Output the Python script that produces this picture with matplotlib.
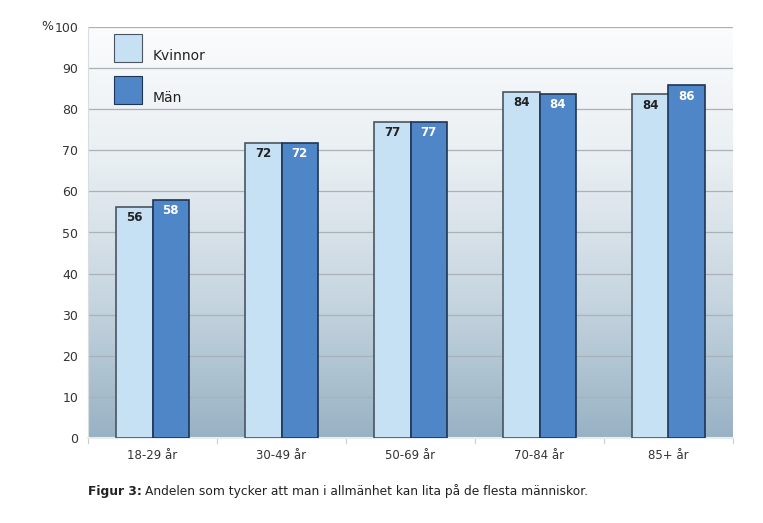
import matplotlib
matplotlib.use("Agg")
import matplotlib.pyplot as plt
import numpy as np
from matplotlib.colors import LinearSegmentedColormap
from matplotlib.patches import Rectangle

categories = ["18-29 år", "30-49 år", "50-69 år", "70-84 år", "85+ år"]
kvinnor = [56.3, 71.8, 77.0, 84.3, 83.6]
man = [58.0, 71.8, 77.0, 83.8, 85.8]
kvinnor_labels = ["56", "72", "77", "84", "84"]
man_labels = ["58", "72", "77", "84", "86"]
yticks = [0, 10, 20, 30, 40, 50, 60, 70, 80, 90, 100]

fig = plt.figure(figsize=(7.63, 5.23), dpi=100)
ax = fig.add_axes([88/763, 1-438/523, (733-88)/763, (438-27)/523])

x = np.arange(len(categories))
w = 0.28

# background gradient (dark at bottom, white at top)
cmap = LinearSegmentedColormap.from_list("bg", ["#fbfcfd", "#e8eef2", "#c6d5df", "#98b2c4"])
grad = np.linspace(1, 0, 256).reshape(-1, 1)
ax.imshow(grad, aspect="auto", cmap=cmap, extent=[-0.5, 4.5, 0, 100], origin="lower", zorder=0)

for t in yticks[1:]:
    ax.axhline(t, color="#a9b2b8", lw=0.9, zorder=1)

ax.bar(x - w/2, kvinnor, w, color="#c6e0f4", edgecolor="#4a5560", lw=1.2, zorder=3)
ax.bar(x + w/2, man, w, color="#4f86c8", edgecolor="#1d3557", lw=1.2, zorder=3)

for xi, v, lab in zip(x, kvinnor, kvinnor_labels):
    ax.text(xi - w/2, v - 2.6, lab, ha="center", va="center", fontsize=8.5,
            fontweight="bold", color="#222222", zorder=4)
for xi, v, lab in zip(x, man, man_labels):
    ax.text(xi + w/2, v - 2.6, lab, ha="center", va="center", fontsize=8.5,
            fontweight="bold", color="white", zorder=4)

ax.set_xlim(-0.5, 4.5)
ax.set_ylim(0, 100)
ax.set_yticks(yticks)
ax.set_yticklabels([str(t) for t in yticks], fontsize=9, color="#333333")
ax.set_xticks(x)
ax.set_xticklabels(categories, fontsize=8.5, color="#333333")
ax.tick_params(axis="y", length=0, pad=7)
ax.tick_params(axis="x", length=0, pad=8)
for s in ["top", "right"]:
    ax.spines[s].set_visible(False)
ax.spines["left"].set_color("#d8dde0")
ax.spines["bottom"].set_color("#e8ecee")
ax.spines["bottom"].set_linewidth(1.5)
for b in np.arange(-0.5, 5.0, 1.0):
    ax.plot([b, b], [0, -1.2], color="#c8cdd0", lw=0.8, clip_on=False, zorder=2)

fig.text(47/763, 1-27/523, "%", fontsize=9, color="#333333", ha="center", va="center")

# legend
for (y0, col, ec, lab) in [(34, "#c6e0f4", "#4a5560", "Kvinnor"), (76, "#4f86c8", "#1d3557", "Män")]:
    fig.patches.append(Rectangle((114/763, 1-(y0+28)/523), 28/763, 28/523,
                                 transform=fig.transFigure, facecolor=col, edgecolor=ec, lw=0.8, zorder=5))
    fig.text(153/763, 1-(y0+22)/523, lab, fontsize=10, color="#222222", ha="left", va="center", zorder=6)

t1 = fig.text(88/763, 1-491/523, "Figur 3:", fontsize=8.8, fontweight="bold", color="#222222",
              ha="left", va="center")
fig.canvas.draw()
bb = t1.get_window_extent(renderer=fig.canvas.get_renderer())
fig.text((bb.x1 + 3)/763, 1-491/523, "Andelen som tycker att man i allmänhet kan lita på de flesta människor.",
         fontsize=8.8, color="#222222", ha="left", va="center")

fig.savefig("out.png", dpi=100)
